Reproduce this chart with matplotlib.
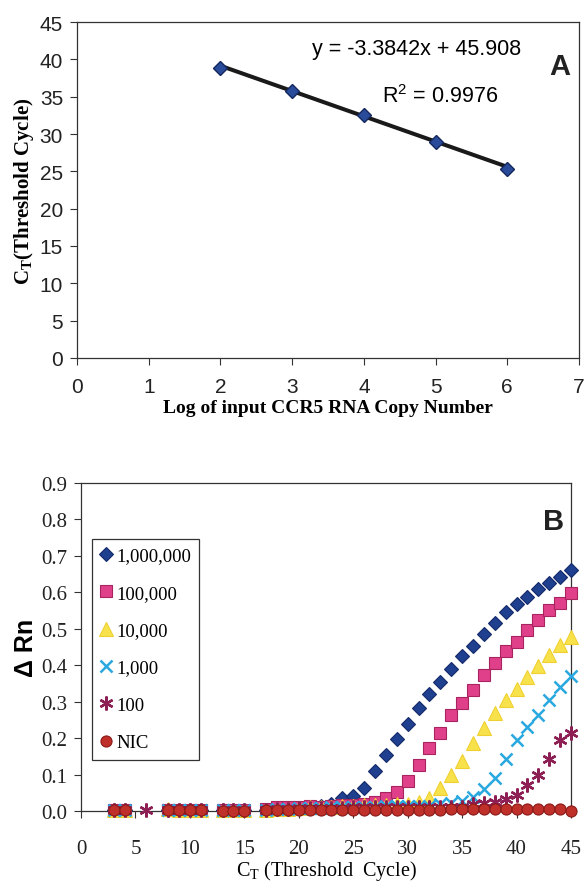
import numpy as np
import matplotlib
matplotlib.use("Agg")
import matplotlib.pyplot as plt
from matplotlib.lines import Line2D

# Panel A: standard curve
log_copies = [2, 3, 4, 5, 6]
ct_values = [38.8, 35.8, 32.6, 28.9, 25.3]
slope, intercept, r2 = -3.3842, 45.908, 0.9976

# Panel B: amplification plots
cycles = [3, 4, 6, 8, 9, 10, 11, 13, 14, 15,
          17, 18, 19, 20, 21, 22, 23, 24, 25, 26,
          27, 28, 29, 30, 31, 32, 33, 34, 35, 36,
          37, 38, 39, 40, 41, 42, 43, 44, 45]
nan = np.nan
rn_1e6 = [0.003, 0.003, nan, 0.003, 0.003, 0.003, 0.003, 0.003, 0.003, 0.003,
          0.004, 0.005, 0.006, 0.008, 0.010, 0.015, 0.020, 0.035, 0.040, 0.064,
          0.110, 0.154, 0.197, 0.238, 0.283, 0.321, 0.355, 0.389, 0.425, 0.454,
          0.485, 0.517, 0.546, 0.567, 0.587, 0.608, 0.626, 0.641, 0.661]
rn_1e5 = [0.004, 0.004, nan, 0.004, 0.004, 0.004, 0.004, 0.003, 0.003, 0.003,
          0.005, 0.012, 0.010, 0.012, 0.015, 0.012, 0.014, 0.016, 0.016, 0.020,
          0.026, 0.035, 0.053, 0.082, 0.126, 0.174, 0.213, 0.263, 0.295, 0.332,
          0.373, 0.405, 0.439, 0.464, 0.496, 0.524, 0.551, 0.571, 0.597]
rn_1e4 = [0.004, 0.004, nan, 0.006, 0.004, 0.004, 0.004, 0.003, 0.003, 0.003,
          0.004, 0.006, 0.006, 0.008, 0.010, 0.012, 0.012, 0.014, 0.015, 0.016,
          0.016, 0.017, 0.018, 0.020, 0.025, 0.035, 0.062, 0.099, 0.137, 0.186,
          0.227, 0.268, 0.304, 0.336, 0.368, 0.399, 0.428, 0.455, 0.478]
rn_1e3 = [0.003, 0.003, nan, 0.003, 0.003, 0.003, 0.003, 0.003, 0.003, 0.003,
          0.004, 0.005, 0.006, 0.007, 0.008, 0.009, 0.010, 0.010, 0.011, 0.012,
          0.012, 0.013, 0.013, 0.014, 0.014, 0.015, 0.020, 0.022, 0.028, 0.039,
          0.059, 0.090, 0.142, 0.195, 0.231, 0.263, 0.304, 0.341, 0.371]
rn_1e2 = [0.004, 0.004, 0.004, 0.004, 0.004, 0.004, 0.004, 0.003, 0.003, 0.003,
          0.004, 0.005, 0.006, 0.007, 0.008, 0.008, 0.009, 0.009, 0.010, 0.010,
          0.010, 0.011, 0.011, 0.011, 0.012, 0.012, 0.012, 0.012, 0.012, 0.018,
          0.022, 0.026, 0.033, 0.044, 0.070, 0.100, 0.144, 0.195, 0.213]
rn_nic = [0.002, 0.002, nan, 0.002, 0.002, 0.002, 0.002, 0.001, 0.001, 0.001,
          0.002, 0.002, 0.002, 0.002, 0.002, 0.002, 0.002, 0.002, 0.003, 0.003,
          0.003, 0.003, 0.003, 0.004, 0.004, 0.004, 0.004, 0.005, 0.006, 0.006,
          0.005, 0.005, 0.006, 0.006, 0.006, 0.005, 0.005, 0.005, 0.001]
series_labels = ["1,000,000", "100,000", "10,000", "1,000", "100", "NIC"]

sans = "Liberation Sans"
serif = "Liberation Serif"

fig = plt.figure(figsize=(5.85, 8.87), dpi=100)

# ---------- Panel A ----------
axA = fig.add_axes([77 / 585, 1 - 359 / 887, (579 - 77) / 585, (359 - 23) / 887])
fit_x = np.array([log_copies[0], log_copies[-1]])
axA.plot(fit_x, slope * fit_x + intercept, color="#1a1a1a", lw=2.9, zorder=2)
axA.plot(log_copies, ct_values, ls="none", marker="D", ms=7.5,
         mfc="#2a4a9a", mec="#14285f", mew=1, zorder=3)
axA.set_xlim(0, 7)
axA.set_ylim(0, 45)
axA.set_xticks(range(0, 8))
axA.set_yticks(range(0, 46, 5))
axA.tick_params(direction="out", length=5, width=0.8, colors="#333333", pad=5)
axA.tick_params(axis="x", pad=9)
for lab in axA.get_xticklabels() + axA.get_yticklabels():
    lab.set_fontfamily(sans)
    lab.set_fontsize(15)
    lab.set_color("#222222")
for sp in axA.spines.values():
    sp.set_linewidth(0.9)
    sp.set_color("#333333")
axA.set_xlabel("Log of input CCR5 RNA Copy Number", family=serif,
               fontweight="bold", fontsize=14, labelpad=2)
axA.set_ylabel(r"C$_\mathregular{T}$(Threshold Cycle)", family=serif,
               fontweight="bold", fontsize=15, labelpad=3)
axA.text(0.677, 0.92, "y = -3.3842x + 45.908", transform=axA.transAxes,
         family=sans, fontsize=15.5, ha="center", va="center")
axA.text(0.723, 0.78, r"R$^\mathregular{2}$ = 0.9976", transform=axA.transAxes,
         family=sans, fontsize=15.5, ha="center", va="center")
axA.text(0.962, 0.87, "A", transform=axA.transAxes, family=sans,
         fontweight="bold", fontsize=21, ha="center", va="center", color="#222222")

# ---------- Panel B ----------
axB = fig.add_axes([81 / 585, 1 - 812 / 887, (571 - 81) / 585, (812 - 484) / 887])
styles = [
    dict(marker="D", ms=7, mfc="#1f3f8f", mec="#15296a"),
    dict(marker="s", ms=8.5, mfc="#e0408a", mec="#a8245e"),
    dict(marker="^", ms=9.5, mfc="#f8e24c", mec="#f0d030"),
    dict(marker="x", ms=9, mfc="none", mec="#2aa8e0", mew=1.8),
    dict(marker=(6, 2, 0), ms=10, mfc="none", mec="#8e1f55", mew=1.7),
    dict(marker="o", ms=8, mfc="#c0302a", mec="#8a1a18"),
]
all_rn = [rn_1e6, rn_1e5, rn_1e4, rn_1e3, rn_1e2, rn_nic]
handles = []
for rn, st, lab in zip(all_rn, styles, series_labels):
    st = dict(st)
    st.setdefault("mew", 0.8)
    axB.plot(cycles, rn, ls="none", clip_on=False, zorder=3, **st)
    handles.append(Line2D([], [], ls="none", **st))
axB.set_xlim(0, 45)
axB.set_ylim(0, 0.9)
axB.set_xticks(range(0, 46, 5))
axB.set_yticks(np.arange(0, 0.91, 0.1))
axB.set_yticklabels(["%.1f" % v for v in np.arange(0, 0.91, 0.1)])
axB.tick_params(direction="out", length=5, width=0.8, colors="#333333", pad=5)
axB.tick_params(axis="x", pad=15)
for lab in axB.get_xticklabels() + axB.get_yticklabels():
    lab.set_fontfamily(serif)
    lab.set_fontsize(15)
    lab.set_color("#222222")
for sp in axB.spines.values():
    sp.set_linewidth(0.9)
    sp.set_color("#333333")
axB.set_xlabel(r"C$_\mathregular{T}$ (Threshold  Cycle)", family=serif,
               fontsize=14.5, labelpad=0)
axB.set_ylabel("\u0394 Rn", family=sans, fontweight="bold", fontsize=18, labelpad=2)
axB.text(0.965, 0.885, "B", transform=axB.transAxes, family=sans,
         fontweight="bold", fontsize=21, ha="center", va="center", color="#222222")
leg = axB.legend(handles, series_labels, loc="upper left",
                 bbox_to_anchor=(0.022, 0.83), prop={"family": serif, "size": 13.5},
                 frameon=True, fancybox=False, framealpha=1, edgecolor="#333333",
                 handlelength=0.6, handletextpad=0.25, labelspacing=1.08,
                 borderpad=0.45, borderaxespad=0)
leg.get_frame().set_linewidth(0.9)

fig.savefig("out.png", dpi=100, facecolor="white")
